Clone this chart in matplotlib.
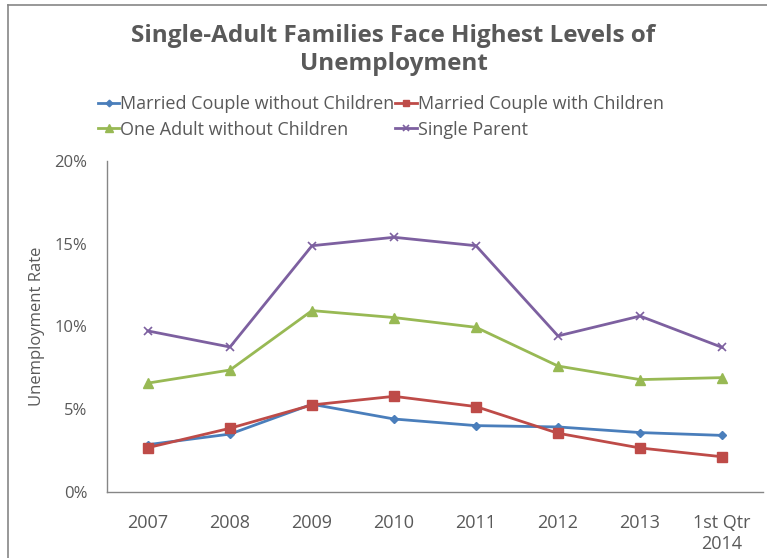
import numpy as np
import matplotlib.pyplot as plt
from matplotlib.lines import Line2D
from matplotlib.ticker import FuncFormatter

plt.rcParams['font.family'] = ['Open Sans', 'DejaVu Sans']

# Categories and series (unemployment rate, %)
periods = ['2007', '2008', '2009', '2010', '2011', '2012', '2013', '1st Qtr\n2014']
married_no_kids = [2.86, 3.50, 5.30, 4.41, 4.01, 3.93, 3.59, 3.42]
married_kids = [2.68, 3.85, 5.26, 5.78, 5.16, 3.55, 2.66, 2.13]
one_adult = [6.58, 7.37, 10.96, 10.54, 9.95, 7.61, 6.79, 6.91]
single_parent = [9.73, 8.76, 14.88, 15.39, 14.88, 9.43, 10.63, 8.74]

text_col = '#595959'
spine_col = '#868686'

fig = plt.figure(figsize=(7.67, 5.58), dpi=100)
ax = fig.add_axes([0.1395, 0.1183, 0.8553, 0.5932])

x = np.arange(len(periods))
l1, = ax.plot(x, married_no_kids, color='#4a7ebb', lw=2, marker='D', ms=4.5,
              label='Married Couple without Children')
l2, = ax.plot(x, married_kids, color='#be4b48', lw=2, marker='s', ms=6.5,
              label='Married Couple with Children')
l3, = ax.plot(x, one_adult, color='#98b954', lw=2, marker='^', ms=7,
              label='One Adult without Children')
l4, = ax.plot(x, single_parent, color='#7d60a0', lw=2, marker='x', ms=6,
              mew=1.2, label='Single Parent')

ax.set_xlim(-0.5, len(periods) - 0.5)
ax.set_ylim(0, 20)
ax.set_yticks([0, 5, 10, 15, 20])
ax.yaxis.set_major_formatter(FuncFormatter(lambda v, p: f'{v:.0f}%'))
ax.set_xticks(x)
ax.set_xticklabels(periods)
ax.tick_params(length=0, colors=text_col)
ax.tick_params(axis='x', labelsize=13, pad=16)
ax.tick_params(axis='y', labelsize=12, pad=14)

for s in ['top', 'right']:
    ax.spines[s].set_visible(False)
for s in ['left', 'bottom']:
    ax.spines[s].set_color(spine_col)
    ax.spines[s].set_linewidth(1)

ax.set_ylabel('Unemployment Rate', fontsize=12, color=text_col)
ax.yaxis.set_label_coords(-0.095, 0.5)

fig.text(0.513, 0.91, 'Single-Adult Families Face Highest Levels of\nUnemployment',
         ha='center', va='center', fontsize=17.5, fontweight='bold',
         color=text_col, linespacing=1.25)

leg = fig.legend([l1, l3, l2, l4],
                 [l1.get_label(), l3.get_label(), l2.get_label(), l4.get_label()],
                 ncol=2, loc='upper left', bbox_to_anchor=(0.118, 0.842),
                 frameon=False, fontsize=13, handlelength=1.2, handletextpad=0.05,
                 columnspacing=0.05, labelspacing=0.4, borderaxespad=0,
                 markerscale=0.75)
for t in leg.get_texts():
    t.set_color(text_col)

# outer chart frame (cropped on right and bottom)
fig.add_artist(Line2D([8 / 767, 1], [1 - 5 / 558, 1 - 5 / 558],
                      transform=fig.transFigure, color=spine_col, lw=1.2))
fig.add_artist(Line2D([8 / 767, 8 / 767], [0, 1 - 5 / 558],
                      transform=fig.transFigure, color=spine_col, lw=1.2))

fig.savefig('out.png', dpi=100)
